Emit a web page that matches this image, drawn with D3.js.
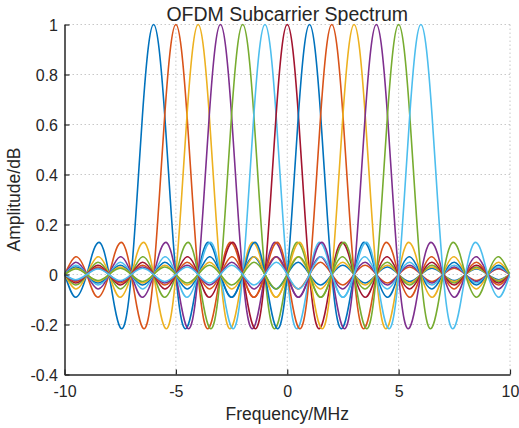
<!DOCTYPE html>
<html>
<head>
<meta charset="utf-8">
<script src="https://cdn.jsdelivr.net/npm/d3@7"></script>
<style>
  body { margin: 0; background: #fff; }
  text { font-family: "Liberation Sans", Arial, Helvetica, sans-serif; fill: #262626; }
  .grid line { stroke: #c8c8c8; stroke-width: 1; stroke-dasharray: 1.5 2.5; }
  .axis path, .axis line { stroke: #262626; }
</style>
</head>
<body>
<svg id="chart" width="519" height="428"></svg>
<script>
// subcarrier centre frequencies (MHz)
const centers = [-6, -5, -4, -3, -2, -1, 0, 1, 2, 3, 4, 5, 6];

// one subcarrier profile: offset from centre -> amplitude
const offsets = [0, 0.25, 0.5, 0.75, 1, 1.25, 1.5, 1.75, 2, 2.25, 2.5, 2.75, 3,
  3.5, 4, 4.5, 5, 5.5, 6, 6.5, 7, 7.5, 8, 8.5, 9, 9.5, 10, 10.5, 11, 11.5,
  12, 12.5, 13, 13.5, 14, 14.5, 15, 15.5, 16];
const amplitudes = [1, 0.9, 0.637, 0.3, 0, -0.18, -0.212, -0.129, 0, 0.1, 0.127, 0.082, 0,
  -0.091, 0, 0.071, 0, -0.058, 0, 0.049, 0, -0.042, 0, 0.037, 0, -0.034, 0, 0.03, 0, -0.028,
  0, 0.025, 0, -0.024, 0, 0.022, 0, -0.021, 0];

const xTicks = [-10, -5, 0, 5, 10];
const yTicks = [-0.4, -0.2, 0, 0.2, 0.4, 0.6, 0.8, 1];

const colors = ['#0072BD', '#D95319', '#EDB120', '#7E2F8E', '#77AC30', '#4DBEEE', '#A2142F'];

const margin = { left: 64.5, right: 510, top: 24.5, bottom: 374.5 };

const svg = d3.select('#chart');

const x = d3.scaleLinear().domain([-10, 10]).range([margin.left, margin.right]);
const y = d3.scaleLinear().domain([-0.4, 1]).range([margin.bottom, margin.top]);

// grid
const grid = svg.append('g').attr('class', 'grid');
grid.selectAll('.gx')
    .data(xTicks.filter(d => d !== -10))
    .enter().append('line')
    .attr('x1', d => x(d)).attr('x2', d => x(d))
    .attr('y1', margin.top).attr('y2', margin.bottom);
grid.selectAll('.gy')
    .data(yTicks.filter(d => d !== -0.4))
    .enter().append('line')
    .attr('x1', margin.left).attr('x2', margin.right)
    .attr('y1', d => y(d)).attr('y2', d => y(d));

// build full symmetric profile
const profile = [];
for (let i = offsets.length - 1; i > 0; i--) profile.push([-offsets[i], amplitudes[i]]);
for (let i = 0; i < offsets.length; i++) profile.push([offsets[i], amplitudes[i]]);

svg.append('clipPath').attr('id', 'clip')
   .append('rect')
   .attr('x', margin.left).attr('y', 0)
   .attr('width', margin.right - margin.left).attr('height', 428);

const line = d3.line()
               .x(d => x(d[0]))
               .y(d => y(d[1]))
               .curve(d3.curveNatural);

const curves = svg.append('g').attr('clip-path', 'url(#clip)');
curves.selectAll('path')
      .data(centers)
      .enter().append('path')
      .attr('fill', 'none')
      .attr('stroke', (d, i) => colors[i % colors.length])
      .attr('stroke-width', 1.6)
      .attr('d', c => line(profile.map(p => [c + p[0], p[1]]).filter(p => p[0] >= -10.5 && p[0] <= 10.5)));

// axes
const xAxis = d3.axisBottom(x).tickValues(xTicks).tickSizeInner(-5).tickSizeOuter(0);
const yAxis = d3.axisLeft(y).tickValues(yTicks).tickSizeInner(-5).tickSizeOuter(0);

const xg = svg.append('g').attr('class', 'axis')
              .attr('transform', 'translate(0,' + margin.bottom + ')')
              .call(xAxis);
const yg = svg.append('g').attr('class', 'axis')
              .attr('transform', 'translate(' + margin.left + ',0)')
              .call(yAxis);
[xg, yg].forEach(g => {
  g.attr('font-family', null).attr('font-size', null);
  g.select('.domain').attr('stroke-width', 1.5);
  g.selectAll('line').attr('stroke-width', 1.2);
  g.selectAll('text').style('font-size', '16px').attr('fill', '#262626');
});
xg.selectAll('text')
  .attr('y', 22.5).attr('dy', 0)
  .text(d => d < 0 ? '-' + Math.abs(d) : d);
yg.selectAll('text')
  .attr('x', -6.5).attr('dy', '0.35em')
  .text(d => d < 0 ? '-' + Math.abs(+d.toFixed(1)) : +d.toFixed(1));

// titles
svg.append('text')
   .attr('x', (margin.left + margin.right) / 2).attr('y', 20.5)
   .attr('text-anchor', 'middle')
   .style('font-size', '19.5px')
   .text('OFDM Subcarrier Spectrum');

svg.append('text')
   .attr('x', (margin.left + margin.right) / 2).attr('y', 420)
   .attr('text-anchor', 'middle')
   .style('font-size', '17.5px')
   .text('Frequency/MHz');

svg.append('g')
   .attr('transform', 'translate(20,' + (margin.top + margin.bottom) / 2 + ')')
   .append('text')
   .attr('transform', 'rotate(-90)')
   .attr('text-anchor', 'middle')
   .style('font-size', '17.5px')
   .text('Amplitude/dB');
</script>
</body>
</html>
